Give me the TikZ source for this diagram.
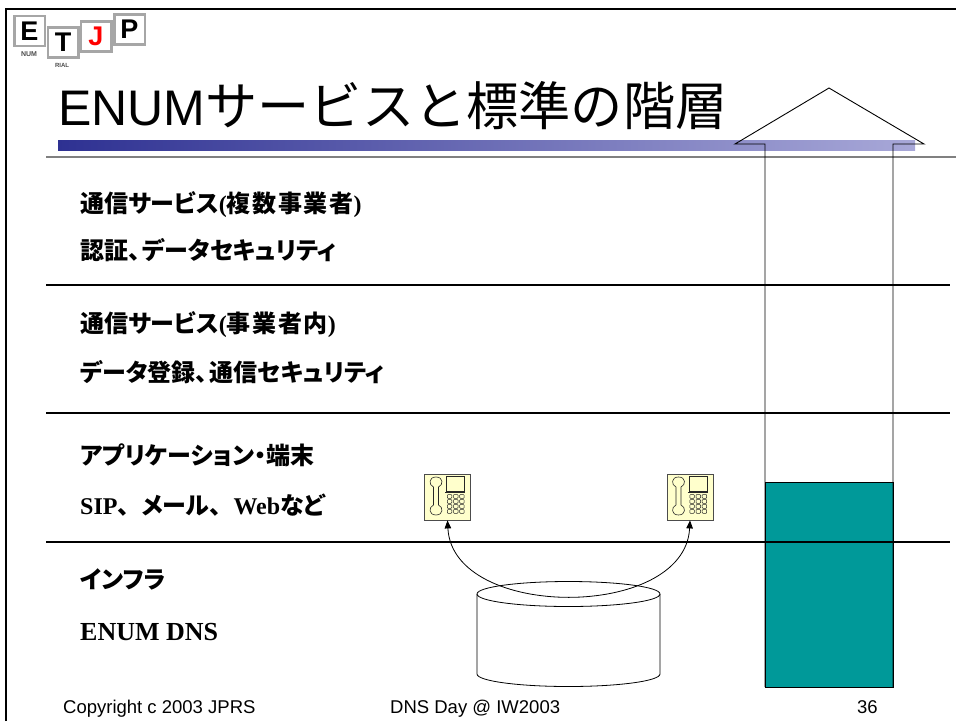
\documentclass[tikz,border=0pt]{standalone}
\usepackage{fontspec}
\setmainfont{Liberation Serif}
\newfontfamily\cjk{Noto Sans CJK JP}[RawFeature=+palt]
\newfontfamily\cjkw{Noto Sans CJK JP}[LetterSpace=7]
\newfontfamily\cjkt{Noto Sans CJK JP}
\newfontfamily\lsans{Liberation Sans}
\usetikzlibrary{arrows.meta}
\newcommand\J[1]{{\cjk #1}}
\newcommand\W[1]{{\cjkw #1}}
\newcommand\T{{\cjkt 、}}
\newcommand\Tp{{\cjk 、}\hspace{2pt}}
\definecolor{tealbar}{RGB}{0,153,153}
\definecolor{barL}{RGB}{46,49,146}
\definecolor{barR}{RGB}{168,168,216}
\definecolor{phfill}{RGB}{255,255,204}
\tikzset{
  body/.style={anchor=base west, inner sep=0, font=\bfseries\fontsize{24}{28}\selectfont},
  foot/.style={anchor=base west, inner sep=0, font=\lsans\fontsize{18.5}{22}\selectfont},
  sepline/.style={line width=1.2pt},
  phone/.style={draw=black!70, fill=phfill, line width=0.8pt, minimum width=46, minimum height=46, inner sep=0},
  logobox/.style={draw=black!35, line width=2.5pt, fill=white, minimum width=30.5, minimum height=30, inner sep=0, font=\lsans\bfseries\fontsize{27}{27}\selectfont},
  logosmall/.style={inner sep=0, font=\lsans\bfseries\fontsize{7}{7}\selectfont, text=black!70},
  tip/.tip={Triangle[length=8pt,width=6.5pt]},
  phonepic/.pic={
    \draw[line width=0.6pt, black!85] (-14,-10) .. controls (-19,-12) and (-19,-20) .. (-11.5,-20)
      .. controls (-4,-20) and (-4,-12) .. (-9,-10) -- (-9,8)
      .. controls (-4,10) and (-4,18) .. (-11.5,18)
      .. controls (-19,18) and (-19,10) .. (-14,8) -- cycle;
    \draw[line width=0.6pt, black!85] (-1.2,-20.8) rectangle (17.2,-6.2);
    \draw[line width=1.3pt, black!85] (-2.2,-4.3) -- (17.8,-4.3);
    \foreach \c in {0,1,2}{\foreach \r in {0,1,2,3}{
      \draw[line width=0.5pt, black!85, rounded corners=0.8pt] (-0.2+\c*6.2,-2.5+\r*5) rectangle +(4.5,3.8);}}
  }
}
\begin{document}
\begin{tikzpicture}[x=1pt,y=-1pt]
\useasboundingbox (0,0) rectangle (956,721);
\fill[white] (0,0) rectangle (956,721);
% frame
\draw[line width=2.6pt] (6,721) -- (6,9) -- (956,9);
% logo
\node[logobox] (lE) at (29.5,31) {E};
\node[logobox] (lT) at (63,42.5) {T};
\node[logobox, text=red] (lJ) at (96,36.5) {J};
\node[logobox] (lP) at (129.5,29.5) {P};
\node[logosmall] (lN) at (29,54) {NUM};
\node[logosmall, font=\lsans\bfseries\fontsize{6}{6}\selectfont] (lR) at (62,65.5) {RIAL};
% title
\fill[left color=barL, right color=barR] (58,140) rectangle (915,150);
\node[anchor=base west, inner sep=0] (title) at (58,125)
  {{\lsans\fontsize{50}{60}\selectfont ENUM}{\cjkt\fontsize{52.2}{60}\selectfont サービスと標準の階層}};
\draw[black!50, line width=2pt] (46,157) -- (956,157);
% teal bar and big arrow
\draw[fill=tealbar, line width=0.8pt] (765,482) rectangle (893,687);
\draw[line width=0.9pt] (765,687) -- (765,144) -- (735,144) -- (829,88) -- (924,144) -- (893,144) -- (893,687);
% separators
\draw[sepline] (46,285) -- (950,285);
\draw[sepline] (46,413) -- (950,413);
\draw[sepline] (46,542) -- (950,542);
% texts
\node[body] (t1) at (80,212) {\J{通信サービス}(\W{複数事業者})};
\node[body] (t2) at (80,259) {\J{認証}\Tp\J{データセキュリティ}};
\node[body] (t3) at (80,332) {\J{通信サービス}(\W{事業者内})};
\node[body] (t4) at (80,381) {\J{データ登録}\Tp\J{通信セキュリティ}};
\node[body] (t5) at (80,464) {\J{アプリケーション・端末}};
\node[body] (t6) at (80,514) {SIP\T\J{メール}\T Web\J{など}};
\node[body] (t7) at (80,588) {\J{インフラ}};
\node[body, font=\bfseries\fontsize{26}{30}\selectfont] (t8) at (80,640) {ENUM DNS};
% cylinder
\fill[white] (477,594) -- (477,674) arc[start angle=180,end angle=0,x radius=91.5,y radius=12.5] -- (660,594) arc[start angle=0,end angle=-180,x radius=91.5,y radius=12.5] -- cycle;
\draw[line width=0.8pt] (477,594) -- (477,674) arc[start angle=180,end angle=0,x radius=91.5,y radius=12.5] -- (660,594);
\draw[line width=0.8pt] (568.5,594) ellipse[x radius=91.5, y radius=12.5];
% phones
\node[phone] (ph1) at (447.5,497) {};
\node[phone] (ph2) at (690,497) {};
\pic at (ph1.center) {phonepic};
\pic at (ph2.center) {phonepic};
\draw[{tip}-{tip}, line width=0.8pt] (ph1.south) .. controls +(5,100) and +(-5,100) .. (ph2.south);
% footer
\node[foot] (f1) at (63,713) {Copyright c 2003 JPRS};
\node[foot] (f2) at (390,713) {DNS Day @ IW2003};
\node[foot] (f3) at (857,713) {36};
\end{tikzpicture}
\end{document}
